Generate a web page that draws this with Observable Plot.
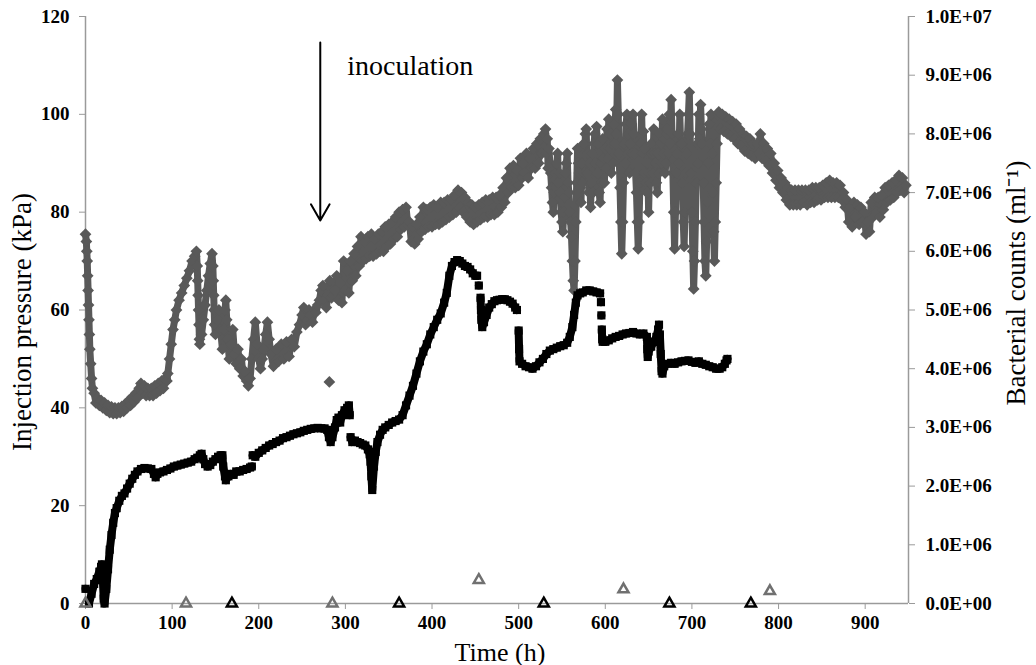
<!DOCTYPE html>
<html><head><meta charset="utf-8">
<script src="https://cdn.jsdelivr.net/npm/d3@7"></script>
<script src="https://cdn.jsdelivr.net/npm/@observablehq/plot@0.6"></script>
<style>html,body{margin:0;padding:0;background:#fff}#chart svg{display:block}</style>
</head><body><div id="chart"></div>
<script>
// ---- Data (time h, injection pressure kPa) ----
const grayReadings = [
[0,75.5],[1,74],[1.5,72],[2,70],[2.5,67],[3,64],[3.5,61],[4,58],[4.5,55],[5,52],[6,49],[7,46],[8,44],
[10,43],[12,41],[14,42],[16,40.5],[18,41.5],[20,40],[22,41],[24,39.5],[26,40.5],[28,39],[30,40.2],[32,38.8],[34,40],[36,38.8],[38,40],[40,39],[42,40.3],[44,39.3],[46,40.8],[48,40],[50,41.5],[52,40.5],[54,42.2],[56,41.2],[58,43],[60,42],[62,44],[64,45],[66,43],[68,44.5],[70,42.5],[72,44],[74,42.5],[76,44],[78,42.5],[80,44.5],[82,43],[84,45],[86,43.5],[88,45.5],[90,44],[92,46],[94,45.5],
[95,47],[97,50],[99,53],[101,56],[103,58],[105,60],[108,62],[111,63.5],[114,65],[117,66.5],[120,68],[123,70],[126,71],[128,72],[129,69],[129.5,66],[130,63],[130.5,60],[131,57],[131.5,54],[132,53],[134,55],[136,58],[138,61],[140,64],[142,67],[144,69.5],[146,71.5],[147,69],[147.5,66],[148,63],[148.5,60],[149,57],
[150,55],[152,58],[154,60],[156,56],[158,52],[160,56],[161,60],[162,62],[163,58],[164,54],[166,50],[168,53],[170,56],[172,51],[174,49],[176,52],[178,48],[180,50],[182,46.5],[184,47.5],[186,45.5],[188,44.5],
[190,46],[192,50],[194,54],[196,57.5],[198,53],[200,50],[202,48],[204,50],[206,52],[208,55],[210,57.5],[212,54],[214,51],[217,48.5],[220,52],[223,49.5],[226,53],[229,50],[232,53.5],[235,50.5],[238,54],[241,52.5],[244,55.5],[247,57],[250,59],[252,60.5],[254,57],[256,58],[258,60],[260,59],[262,57.5],[264,60],[266,59.5],[268,61],[270,62],[272,64],[274,65],[276,62],[278,60.5],[280,63],[282,66],[284,62.5],[286,63],[288,64],
[290,67],[292,62],[294,65.5],[296,61.5],[298,70],[300,64],[302,68],[304,63.5],[306,70],[308,66],[310,71.5],[312,67],[314,73],[316,69],[318,75],[320,70],[322,74],[324,70.5],[326,75],[328,71],[330,75.5],[332,71],[334,74.5],[336,71.5],[338,75.5],[340,72],[342,76],[344,72],[346,77],[348,73],[350,77.5],[352,73.5],[354,78],[356,74.5],[358,79],[360,75],[362,80],[364,76.5],[366,80.5],[368,77],[370,81],[372,77.5],[374,78],[376,74],[378,77],[380,73.5],[382,77.5],[384,74.5],[386,79],[388,76],[390,81],[392,76.5],[394,80.5],[396,77],[398,81],[400,77],[402,81.5],[404,77.5],[406,81],[408,77.5],[410,82],[412,78],[414,82],[416,78.5],[418,82.5],[420,79],[422,82.5],[424,79.5],[426,83.5],[428,80],[430,84.5],[432,81],[434,84],[436,80],[438,83],[440,79],[442,82],[444,78],[446,81.5],[448,77.5],[450,81],[452,78],[454,81.5],[456,78.5],[458,82],[460,79],[462,82.5],[464,79],[466,82.5],[468,79.5],[470,83],[472,79.5],[474,83],[476,80],[478,83.5],[480,81],[482,85],[484,82],[486,87],[488,84],[490,89],[492,85],[494,89.5],[496,85],[498,88.5],[500,85.5],[502,91],[504,87],
[505,90],[507,88],[509,92],[511,87],[513,91],[515,89],[517,93],[519,89],[521,94],[523,90],[525,95],[527,92],[529,96],[531,97],[532,92],[533,95],[534,89],[535,93],[536,90],[537,88],[538,85],[539,82],[540,80],[541,84],[542,88],[543,85],[544,90],[545,92],[546,86],[547,88],[548,84],[549,80],[550,78],[551,76],[552,80],[553,83],[554,88],[555,90],[556,92],[557,86],[558,84],[559,80],[560,78],[561,75],[562,70],[563,66],[564,64],[565,70],[566,78],[567,86],[568,93],[569,90],[570,88],[571,85],
[572,82],[573,90],[574,86],[575,94],[576,88],[577,96],[578,97],[579,88],[580,92],[581,84],[582,90],[583,81],[584,86],[585,92],[586,84],[587,94],[588,96],[589,90],[590,97.5],[591,88],[592,94],[593,84],[594,82],[595,90],[596,86],[597,95],[598,91],[599,86],[600,93],[601,89],[602,97],[603,91],[604,99],[605,93],[606,96],[607,88],[608,94],[609,90],[610,98],[611,94],[612,101],[613,96],[614,107],[615,100],[616,92],[617,85],[618,78],[619,71.5],[620,78],[621,86],[622,94],[623,90],[624,98],[625,100],[626,92],[627,96],[628,88],[629,94],[630,98],[631,92],[632,100],[633,96],[634,92],[635,88],[636,84],[637,78],[638,72.5],[639,78],[640,86],[641,94],[642,100],[643,92],[644,96.5],[645,88],[646,93],[647,86],[648,84],[649,90],[650,80],[651,88],[652,86],[653,94],[654,92],[655,88],[656,97],[657,92],[658,90],[659,86],[660,84],[661,92],[662,88],[663,96],[664,94],[665,90],[666,99],[667,92],[668,95],[669,88],[670,90],[671,96],[672,97],[673,92],[674,100],[675,94],[676,103],[677,96],
[678,88],[679,80],[680,72.5],[681,80],[682,88],[683,92],[684,96],[685,90],[686,100],[687,94],[688,94],[689,86],[690,78],[691,73],[692,80],[693,88],[694,92],[695,96],[696,100],[697,104.5],[698,96],[699,88],[700,80],[701,72],[702,64.3],[703,70],[704,78],[705,86],[706,94],[707,90],[708,100],[709,95],[710,102],
[711,97],[712,94],[713,86],[714,78],[715,70],[716,67],[717,74],[718,82],[719,90],[720,98],[721,94],[722,100],[723,92],[724,84],[725,76],[726,70],[727,78],[728,86],[729,94],[730,100],
[731,100.5],[733,97],[735,100],[737,96.5],[739,99.5],[741,96],[743,99],[745,95.5],[747,98.5],[749,95],[751,98],[753,94],[755,97],[757,93.5],[759,96],[761,92.5],[763,95.5],[765,92],[767,95],[769,91.5],[771,94],[773,91],[775,94],[777,92],[779,96],[781,91],[783,94],[785,90.5],[787,93],[789,89.5],[791,92],[793,88],[795,90],[797,86.5],[799,88.5],[801,85],[803,87],[805,84],[807,86],[809,82.5],[811,85],[813,81.5],[815,84.5],[817,81.5],[819,84.5],[821,81.5],[823,84.5],[825,81.5],[827,84.5],[829,82],[831,84.5],[833,81.5],[835,84.5],[837,82],[839,85],[841,82],[843,85],[845,82.5],[847,85],[849,82.5],[851,85.5],[853,83],[855,86],[857,83],[859,86.5],[861,83],[863,86],[865,83],[867,86],[869,83],[871,85.5],[873,82.5],[875,84],[877,81],[879,82.5],[881,78],[883,81],[885,77],[887,82],[889,79],[891,81.5],[893,77.5],[895,81],[897,78],[899,80],[901,75.5],[903,78],[905,76],[907,82],[909,79],[911,83],[913,80],[915,83],[917,79],[919,83.5],[921,80.5],[923,85],[925,82],[927,85.5],[929,82.5],[931,86],[933,83],[935,86.5],[937,84],[939,87.5],[941,84.5],[943,87],[945,84],[947,85.5]
];
const grayStray = [[281.5,45.3]];

const blackReadings = [
[0,3],[0.5,null],
[4,0],[7,2],[10,4],[13,5],[16,6.5],[18,7.5],[19,8],[20,5],[21,1],[22,0],[24,3],[26,7],[28,11],[30,14],[32,16.5],[34,18.5],[36,19.5],[39,21],[42,22],[45,22.5],[48,23.5],[51,24.5],[54,25.5],[57,26.3],[60,27],[64,27.5],[68,27.7],[72,27.6],[76,27.5],[79,26.5],[81,25.8],[83,26.5],[86,26.8],[90,27],[94,27.3],[98,27.6],[102,28],[106,28.2],[110,28.4],[114,28.6],[118,28.8],[122,29],[126,29.5],[129,29.8],[132,30.3],[134,30.6],[136,29.5],[138,28.5],[141,28],[144,28.3],[147,29],[150,29.5],[153,30],[156,30.3],[158,30.3],[159,28],[161,26],[162,25.2],[165,26],[168,26.5],[171,26.3],[174,27],[178,27],[182,27.3],[186,27.5],[190,27.8],[192,28],[192.5,null],
[193,30.3],[196,30],[200,30.8],[204,31.3],[208,31.8],[212,32.3],[216,32.6],[220,33],[224,33.3],[228,33.8],[232,34],[236,34.3],[240,34.6],[244,34.8],[248,35],[252,35.3],[256,35.5],[260,35.7],[264,35.8],[268,35.9],[272,35.8],[276,35.8],[279,35.5],[281,34],[283,33],[285,34],[288,36],[290,37.5],[292,38],[294,37],[296,38.5],[299,39.5],[302,40],[304,40.5],[305,38.5],[305.5,null],
[306,34],[308,33],[311,33.3],[314,33],[317,32.8],[320,32.5],[323,32.3],[326,31.5],[328,30.5],[329,29],[330,26],[331,23.2],[333,28],[335,31],[337,33],[340,34.5],[343,35.5],[346,36],[350,36.5],[354,37],[358,37.3],[362,37.6],[366,38.5],[370,40.5],[374,42.5],[378,44.5],[382,47],[386,49.5],[390,51.5],[394,53],[398,55],[402,56.5],[406,58],[410,59.3],[414,61.5],[417,63.5],[420,67],[423,69],[426,69.8],[429,70.2],[432,70],[435,69.5],[438,69],[441,68.8],[444,68.3],[447,67.5],[450,67],[452,67],[453,null],
[454,65],[455,null],
[456,62.5],[456.5,60],[457,58],[458,56.5],[460,57.5],[463,59],[466,60.5],[469,61.2],[472,61.8],[475,62],[478,62.1],[481,62.2],[484,62.2],[487,62],[490,61.7],[493,61.3],[496,60.5],[498,60],[499,null],
[500,55.8],[500.5,52],[501,49.5],[504,49],[508,48.5],[512,48.3],[516,48],[520,48.5],[524,49.3],[528,50],[532,51],[536,51.7],[540,52],[544,52.3],[548,52.6],[552,52.8],[556,53.3],[559,54.5],[562,56.5],[564,59],[566,61.5],[568,63],[571,63.4],[574,63.6],[578,64],[582,64],[586,63.8],[590,63.6],[594,63.4],[594.5,null],
[595,61.6],[595.3,null],[595.5,58.9],[595.8,null],
[596,56],[596.5,54],[597,53.5],[600,53.5],[604,53.8],[608,54.2],[612,54.5],[616,54.7],[620,55],[624,55.2],[628,55.3],[632,55.5],[636,55.2],[640,55],[644,55.2],[648,54.5],[648.5,52],[649,50.4],[650,51.5],[653,52.5],[656,53.5],[659,54.5],[661,56],[662,57],[662.5,null],
[663,55],[664,51],[665,47.5],[666,47],[668,48.5],[672,49],[676,49.2],[680,49],[684,49.3],[688,49.5],[692,49.6],[696,49.7],[700,49.4],[704,49.2],[708,49.5],[712,49],[716,48.8],[720,48.5],[724,48.3],[728,48],[732,48],[735,48.3],[738,49],[740,49.7],[741,50]
];

// ---- Bacterial counts (ml^-1) ----
const grayCountT = [0, 116, 285, 454, 621, 790];
const grayCountV = [0, 0, 0, 4.0e5, 2.4e5, 2.1e5];
const blackCountT = [169, 362, 529, 674, 768];
const blackCountV = [0, 0, 0, 0, 0];

// ---- Axes ----
const timeTicks = [0,100,200,300,400,500,600,700,800,900];
const timeDomain = [0, 950];
const pressureTicks = [0,20,40,60,80,100,120];
const pressureMax = 120;
const countMax = 1e7;
const countTicks = [0,1e6,2e6,3e6,4e6,5e6,6e6,7e6,8e6,9e6,1e7];
const countTickLabels = ["0.0E+00","1.0E+06","2.0E+06","3.0E+06","4.0E+06","5.0E+06","6.0E+06","7.0E+06","8.0E+06","9.0E+06","1.0E+07"];

// ---- Annotation ----
const inoculationTime = 271;
const inoculationArrowTop = 114.7;
const inoculationArrowTip = 78.3;

// ---- build ----
const countRows = (ts, vs) => ts.map((t, i) => ({t, v: vs[i]}));
const grayCounts = countRows(grayCountT, grayCountV);
const blackCounts = countRows(blackCountT, blackCountV);
const countToY = v => v / countMax * pressureMax;
const countTickY = countTicks.map(countToY);
const countLabel = d => {
  const i = countTickY.findIndex(c => Math.abs(c - d) < 1e-6);
  return i >= 0 ? countTickLabels[i] : "";
};
const inoc = [{t: inoculationTime, top: inoculationArrowTop, tip: inoculationArrowTip}];

const FONT = "'Liberation Serif','Times New Roman',serif";
const GRAY = "#595959";
const TRI_GRAY = "#707070";
const AXIS = "#9a9a9a";
const diamond = d3.symbolDiamond2 || d3.symbolDiamond;
const triangle = d3.symbolTriangle2 || d3.symbolTriangle;
const tickStyle = {fontSize: 19, fontWeight: "bold", fontFamily: FONT, fill: "black", stroke: AXIS, label: null};

const chart = Plot.plot({
  width: 1036,
  height: 665,
  marginLeft: 85,
  marginRight: 128,
  marginTop: 16,
  marginBottom: 62,
  x: {domain: timeDomain, axis: null},
  y: {domain: [0, pressureMax], axis: null},
  style: {fontFamily: FONT, color: "black", background: "white", overflow: "visible"},
  marks: [
    Plot.ruleX([timeDomain[0]], {stroke: AXIS, strokeWidth: 1.5}),
    Plot.ruleX([timeDomain[1]], {stroke: AXIS, strokeWidth: 1.5}),
    Plot.ruleY([0], {stroke: AXIS, strokeWidth: 1.5}),
    Plot.axisY(pressureTicks, {anchor: "left", tickSize: 6, tickPadding: 10, ...tickStyle}),
    Plot.axisY(countTickY, {anchor: "right", tickSize: 6, tickPadding: 11, tickFormat: countLabel, ...tickStyle}),
    Plot.axisX(timeTicks, {anchor: "bottom", tickSize: 6, tickPadding: 6, ...tickStyle}),
    // gray pressure series
    Plot.line(grayReadings, {x: d => d[0], y: d => d[1], stroke: GRAY, strokeWidth: 7, strokeLinejoin: "round"}),
    Plot.dot(grayReadings, {x: d => d[0], y: d => d[1], symbol: diamond, r: 5.3, fill: GRAY, stroke: "none"}),
    Plot.dot(grayStray, {x: d => d[0], y: d => d[1], symbol: diamond, r: 5.3, fill: GRAY, stroke: "none"}),
    // black pressure series
    Plot.line(blackReadings, {x: d => d[0], y: d => d[1], stroke: "black", strokeWidth: 8, strokeLinejoin: "round"}),
    Plot.dot(blackReadings, {x: d => d[0], y: d => d[1], symbol: "square", r: 4.6, fill: "black", stroke: "none"}),
    // bacterial counts
    Plot.dot(grayCounts, {x: "t", y: d => countToY(d.v), symbol: triangle, r: 4.8, fill: "none", stroke: TRI_GRAY, strokeWidth: 2.5}),
    Plot.dot(blackCounts, {x: "t", y: d => countToY(d.v), symbol: triangle, r: 4.8, fill: "none", stroke: "black", strokeWidth: 2.5}),
    // inoculation
    Plot.arrow(inoc, {x1: "t", x2: "t", y1: "top", y2: "tip", stroke: "black", strokeWidth: 2, headLength: 14, headAngle: 60}),
    Plot.text(inoc, {x: "t", y: "top", text: () => "inoculation", dx: 27, dy: 24, textAnchor: "start", lineAnchor: "middle", fontSize: 28}),
    // titles
    Plot.text(["Injection pressure (kPa)"], {text: d => d, frameAnchor: "left", rotate: -90, dx: -63, dy: 12, textAnchor: "middle", lineAnchor: "middle", fontSize: 27}),
    Plot.text(["Bacterial counts (ml\u207B\u00B9)"], {text: d => d, frameAnchor: "right", rotate: -90, dx: 108, dy: -27, textAnchor: "middle", lineAnchor: "middle", fontSize: 27}),
    Plot.text(["Time (h)"], {text: d => d, frameAnchor: "bottom", dx: 3, dy: 49, textAnchor: "middle", lineAnchor: "middle", fontSize: 26})
  ]
});
document.getElementById("chart").appendChild(chart);
</script>
</body></html>
